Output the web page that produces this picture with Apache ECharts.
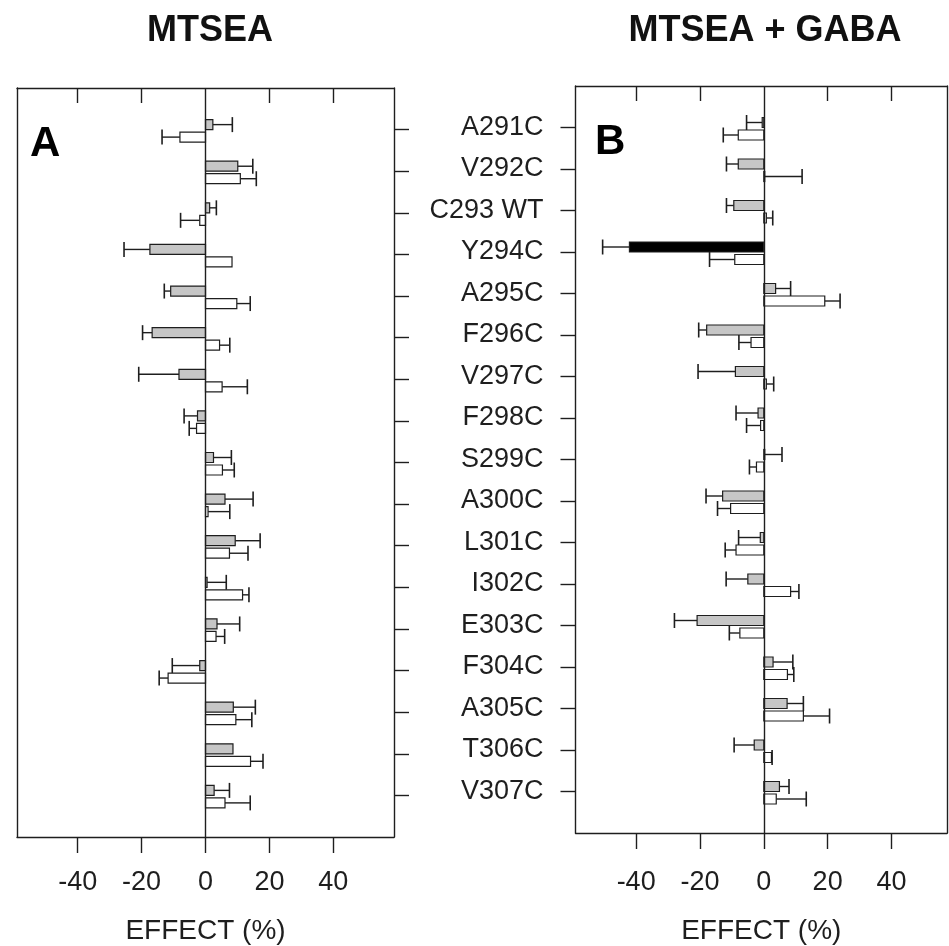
<!DOCTYPE html>
<html>
<head>
<meta charset="utf-8">
<script src="https://cdn.jsdelivr.net/npm/echarts@6/dist/echarts.min.js"></script>
<style>
html,body{margin:0;padding:0;background:#fff;}
#chart{width:949px;height:946px;}
</style>
</head>
<body>
<div id="chart"></div>
<script>
// ---- data ----
const cats = ['A291C','V292C','C293 WT','Y294C','A295C','F296C','V297C','F298C','S299C','A300C','L301C','I302C','E303C','F304C','A305C','T306C','V307C'];

// Panel A: MTSEA
const A_gray     = [2.3, 10.1, 1.3, -17.4, -10.9, -16.7, -8.3, -2.5, 2.5, 6.1, 9.3, 0.5, 3.6, -1.8, 8.7, 8.6, 2.7];
const A_graySem  = [6.1, 4.7, 2.1, 8.1, 2.0, 3.0, 12.6, 4.2, 5.6, 8.8, 7.8, 6.0, 7.1, 8.6, 6.9, 0, 4.8];
const A_white    = [-8.0, 10.9, -1.8, 8.3, 9.8, 4.4, 5.2, -2.8, 5.3, 0.8, 7.5, 11.6, 3.3, -11.7, 9.5, 14.1, 6.1];
const A_whiteSem = [5.6, 5.0, 6.0, 0, 4.2, 3.2, 7.9, 2.3, 3.7, 6.8, 5.8, 2.0, 2.7, 2.8, 5.0, 3.9, 7.9];

// Panel B: MTSEA + GABA
const B_gray     = [-0.5, -8.0, -9.4, -42.1, 3.7, -17.9, -8.9, -1.8, 0.3, -12.9, -1.1, -5.0, -20.9, 2.9, 7.3, -3.0, 4.9];
const B_graySem  = [4.9, 3.7, 2.3, 8.4, 4.7, 2.5, 11.7, 6.9, 5.4, 5.2, 6.8, 6.8, 7.1, 6.2, 5.1, 6.3, 3.0];
const B_white    = [-8.0, 0.3, 0.8, -9.1, 19.1, -4.0, 0.8, -1.0, -2.3, -10.4, -8.7, 8.4, -7.5, 7.4, 12.4, 2.4, 3.9];
const B_whiteSem = [4.7, 11.7, 2.0, 7.9, 4.8, 3.8, 2.3, 4.4, 2.2, 4.1, 3.4, 2.6, 3.3, 2.0, 8.2, 0.2, 9.4];

const xTickValues = [-40, -20, 0, 20, 40];
const xTopTickValues = [-40, -20, 20, 40];
const highlightB = 'Y294C';

// ---- chart ----
const FONT = '"Liberation Sans", Arial, Helvetica, sans-serif';
const INK = '#1e1e1e';
const catIdx = cats.map((c, i) => i);

function buildData(g, gs, w, ws) {
  return cats.map((c, i) => [i, g[i], gs[i], w[i], ws[i]]);
}

function makeRender(panel) {
  return function (params, api) {
    const idx = api.value(0);
    const g = api.value(1), gs = api.value(2), w = api.value(3), ws = api.value(4);
    const base = api.coord([0, idx]);
    const x0 = base[0], y0 = base[1];
    const barH = 10, gap = 2.5, capH = 15;
    const children = [];
    const isBlack = panel === 'B' && cats[idx] === highlightB;

    function bar(val, sem, top, fill) {
      const xv = api.coord([val, idx])[0];
      const left = Math.min(x0, xv);
      const width = Math.max(Math.abs(xv - x0), 0.8);
      const cy = top + barH / 2;
      if (sem > 0) {
        const sign = val >= 0 ? 1 : -1;
        const xe = api.coord([val + sign * sem, idx])[0];
        children.push({
          type: 'line',
          shape: { x1: xv, y1: cy, x2: xe, y2: cy },
          style: { stroke: INK, lineWidth: 1.4 }
        });
        children.push({
          type: 'line',
          shape: { x1: xe, y1: cy - capH / 2, x2: xe, y2: cy + capH / 2 },
          style: { stroke: INK, lineWidth: 1.6 }
        });
      }
      children.push({
        type: 'rect',
        shape: { x: left, y: top, width: width, height: barH },
        style: { fill: fill, stroke: INK, lineWidth: 1.2 }
      });
    }
    bar(g, gs, y0 - barH, isBlack ? '#000000' : '#c6c6c6');
    bar(w, ws, y0 + gap, '#ffffff');
    return { type: 'group', children: children };
  };
}

const axisLineStyle = { color: INK, width: 1.4 };

function xAxes(gridIndex, min, max, labelMargin, nameGap) {
  return [
    {
      gridIndex: gridIndex, type: 'value', position: 'bottom', min: min, max: max,
      axisLine: { show: true, onZero: false, lineStyle: axisLineStyle },
      axisTick: { show: true, inside: false, length: 16, customValues: xTickValues, lineStyle: axisLineStyle },
      axisLabel: { show: true, customValues: xTickValues, fontSize: 27, fontFamily: FONT, color: INK, margin: labelMargin },
      splitLine: { show: false },
      name: 'EFFECT (%)', nameLocation: 'middle', nameGap: nameGap,
      nameTextStyle: { fontSize: 28, fontFamily: FONT, color: INK }
    },
    {
      gridIndex: gridIndex, type: 'value', position: 'top', min: min, max: max,
      axisLine: { show: true, onZero: false, lineStyle: axisLineStyle },
      axisTick: { show: true, inside: true, length: 15, customValues: xTopTickValues, lineStyle: axisLineStyle },
      axisLabel: { show: false },
      splitLine: { show: false }
    }
  ];
}

const yBase = { type: 'value', min: -1, max: 17, inverse: true, splitLine: { show: false } };

const option = {
  animation: false,
  backgroundColor: '#ffffff',
  title: [
    { text: 'MTSEA', left: 205, top: 8, textAlign: 'center',
      textStyle: { fontSize: 36, fontWeight: 'bold', fontFamily: FONT, color: '#111' } },
    { text: 'MTSEA + GABA', left: 760, top: 8, textAlign: 'center',
      textStyle: { fontSize: 36, fontWeight: 'bold', fontFamily: FONT, color: '#111' } }
  ],
  graphic: [
    { type: 'text', left: 30, top: 123, style: { text: 'A', fontSize: 42, fontWeight: 'bold', fontFamily: FONT, fill: '#000' } },
    { type: 'text', left: 595, top: 121, style: { text: 'B', fontSize: 42, fontWeight: 'bold', fontFamily: FONT, fill: '#000' } }
  ],
  grid: [
    { left: 17, top: 88, width: 377, height: 749, containLabel: false, outerBoundsMode: 'none' },
    { left: 575.5, top: 86, width: 371.5, height: 747, containLabel: false, outerBoundsMode: 'none' }
  ],
  xAxis: [].concat(xAxes(0, -59, 59, 32, 80), xAxes(1, -59, 57.4, 36, 84)),
  yAxis: [
    Object.assign({}, yBase, { gridIndex: 0, position: 'left',
      axisLine: { show: true, onZero: false, lineStyle: axisLineStyle }, axisTick: { show: false }, axisLabel: { show: false } }),
    Object.assign({}, yBase, { gridIndex: 0, position: 'right',
      axisLine: { show: true, onZero: false, lineStyle: axisLineStyle },
      axisTick: { show: true, inside: false, length: 15, customValues: catIdx, lineStyle: axisLineStyle },
      axisLabel: { show: false } }),
    Object.assign({}, yBase, { gridIndex: 1, position: 'left',
      axisLine: { show: true, onZero: false, lineStyle: axisLineStyle },
      axisTick: { show: true, inside: false, length: 15, customValues: catIdx, lineStyle: axisLineStyle },
      axisLabel: { show: true, customValues: catIdx, formatter: v => cats[v] || '', fontSize: 27,
        fontFamily: FONT, color: INK, margin: 32, align: 'right' } }),
    Object.assign({}, yBase, { gridIndex: 1, position: 'right',
      axisLine: { show: true, onZero: false, lineStyle: axisLineStyle }, axisTick: { show: false }, axisLabel: { show: false } })
  ],
  series: [
    {
      type: 'custom', xAxisIndex: 0, yAxisIndex: 0,
      renderItem: makeRender('A'),
      encode: { x: 1, y: 0 },
      data: buildData(A_gray, A_graySem, A_white, A_whiteSem),
      clip: false,
      markLine: { silent: true, symbol: 'none', label: { show: false },
        lineStyle: { color: INK, width: 1.4, type: 'solid' }, data: [{ xAxis: 0 }] }
    },
    {
      type: 'custom', xAxisIndex: 2, yAxisIndex: 2,
      renderItem: makeRender('B'),
      encode: { x: 1, y: 0 },
      data: buildData(B_gray, B_graySem, B_white, B_whiteSem),
      clip: false,
      markLine: { silent: true, symbol: 'none', label: { show: false },
        lineStyle: { color: INK, width: 1.4, type: 'solid' }, data: [{ xAxis: 0 }] }
    }
  ]
};

const chart = echarts.init(document.getElementById('chart'), null, { renderer: 'canvas' });
chart.setOption(option);
</script>
</body>
</html>
